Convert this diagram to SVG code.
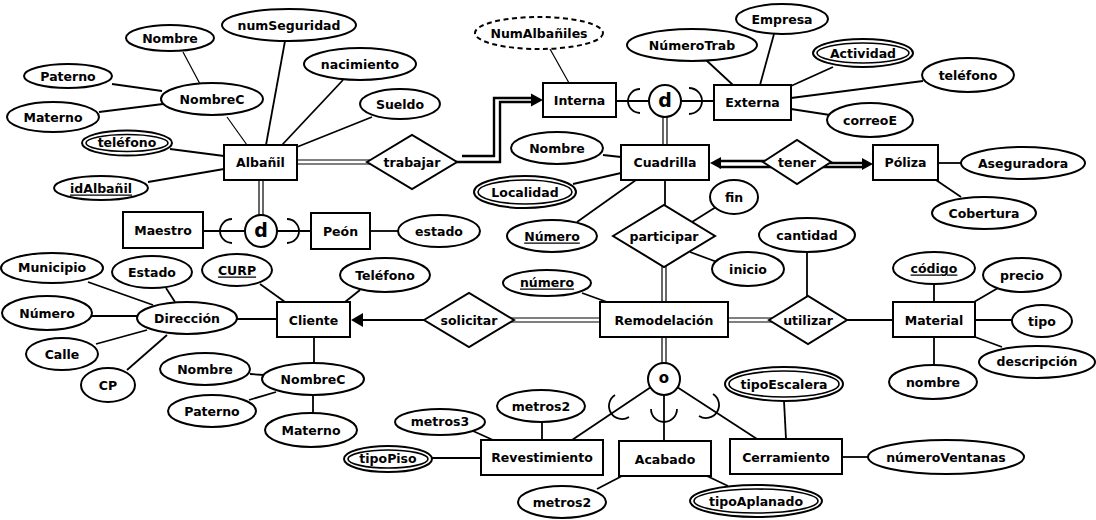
<svg xmlns="http://www.w3.org/2000/svg" width="1096" height="520" viewBox="0 0 1096 520">
<style>
.e{fill:#fff;stroke:#000;stroke-width:2}
.i{fill:none;stroke:#000;stroke-width:1.6}
.dash{stroke-dasharray:5 3.5}
.r{fill:#fff;stroke:#000;stroke-width:2}
.l{stroke:#000;stroke-width:1.8;fill:none}
.t{stroke:#000;stroke-width:1.2;fill:none}
.k{stroke:#000;stroke-width:2.4;fill:none}
.a{fill:#000;stroke:none}
text{font-family:"DejaVu Sans","Liberation Sans",sans-serif;font-weight:bold;font-size:12.5px;text-anchor:middle;dominant-baseline:central;fill:#000}
.u{text-decoration:underline}
.big{font-size:19px}
.o{font-size:15px}
</style>
<rect width="1096" height="520" fill="#fff"/>
<g id="connectors">
<line class="t" x1="227" y1="117" x2="247" y2="145"/>
<line class="t" x1="183" y1="52" x2="200" y2="84"/>
<line class="l" x1="112" y1="84" x2="162" y2="91"/>
<line class="l" x1="99" y1="112" x2="163" y2="104"/>
<line class="l" x1="285" y1="41" x2="266" y2="145"/>
<line class="l" x1="343" y1="80" x2="282" y2="145"/>
<line class="l" x1="372" y1="117" x2="297" y2="147"/>
<line class="l" x1="170" y1="149" x2="224" y2="156"/>
<line class="l" x1="148" y1="182" x2="224" y2="169"/>
<line class="t" x1="550" y1="49" x2="569" y2="83"/>
<line class="l" x1="706" y1="60" x2="733" y2="85"/>
<line class="l" x1="774" y1="34" x2="760" y2="85"/>
<line class="l" x1="833" y1="67" x2="791" y2="86"/>
<line class="l" x1="923" y1="81" x2="791" y2="98"/>
<line class="l" x1="830" y1="115" x2="791" y2="109"/>
<line class="l" x1="603" y1="155" x2="621" y2="157"/>
<line class="l" x1="573" y1="184" x2="621" y2="173"/>
<line class="l" x1="577" y1="222" x2="636" y2="180"/>
<line class="l" x1="665" y1="180" x2="665" y2="206"/>
<line class="l" x1="938" y1="163" x2="961" y2="163"/>
<line class="l" x1="936" y1="180" x2="961" y2="197"/>
<line class="l" x1="692" y1="222" x2="716" y2="207"/>
<line class="l" x1="690" y1="252" x2="717" y2="262"/>
<line class="l" x1="807" y1="252" x2="807" y2="297"/>
<line class="l" x1="847" y1="320" x2="893" y2="320"/>
<line class="l" x1="582" y1="293" x2="607" y2="302"/>
<line class="l" x1="425" y1="320" x2="361" y2="320"/>
<polygon class="a" points="351,320 363,313 363,327"/>
<line class="l" x1="260" y1="284" x2="285" y2="302"/>
<line class="l" x1="360" y1="290" x2="345" y2="302"/>
<line class="l" x1="237" y1="319" x2="277" y2="319"/>
<line class="l" x1="314" y1="337" x2="314" y2="363"/>
<line class="l" x1="88" y1="282" x2="153" y2="305"/>
<line class="l" x1="166" y1="288" x2="175" y2="302"/>
<line class="l" x1="92" y1="316" x2="137" y2="316"/>
<line class="l" x1="96" y1="344" x2="147" y2="330"/>
<line class="l" x1="127" y1="370" x2="167" y2="335"/>
<line class="l" x1="250" y1="374" x2="264" y2="375"/>
<line class="l" x1="249" y1="400" x2="276" y2="392"/>
<line class="l" x1="313" y1="395" x2="313" y2="413"/>
<line class="l" x1="934" y1="284" x2="934" y2="302"/>
<line class="l" x1="974" y1="302" x2="998" y2="288"/>
<line class="l" x1="975" y1="320" x2="1012" y2="320"/>
<line class="l" x1="975" y1="337" x2="1002" y2="347"/>
<line class="l" x1="934" y1="337" x2="934" y2="365"/>
<line class="l" x1="473" y1="431" x2="493" y2="440"/>
<line class="l" x1="542" y1="422" x2="542" y2="440"/>
<line class="l" x1="432" y1="458" x2="481" y2="458"/>
<line class="l" x1="597" y1="489" x2="622" y2="476"/>
<line class="l" x1="707" y1="476" x2="728" y2="486"/>
<line class="l" x1="784" y1="401" x2="786" y2="439"/>
<line class="l" x1="842" y1="457" x2="868" y2="457"/>
<line class="l" x1="651" y1="387" x2="572" y2="440"/>
<line class="l" x1="664" y1="395" x2="664" y2="441"/>
<line class="l" x1="677" y1="387" x2="757" y2="439"/>
<line class="l" x1="203" y1="231" x2="245" y2="231"/>
<line class="l" x1="277" y1="231" x2="311" y2="231"/>
<line class="l" x1="370" y1="231" x2="398" y2="231"/>
<line class="l" x1="616" y1="101" x2="649" y2="101"/>
<line class="l" x1="681" y1="101" x2="714" y2="101"/>
<!-- double lines -->
<line class="t" x1="297" y1="160" x2="372" y2="160"/>
<line class="t" x1="297" y1="164" x2="372" y2="164"/>
<line class="t" x1="259" y1="180" x2="259" y2="216"/>
<line class="t" x1="263" y1="180" x2="263" y2="216"/>
<line class="t" x1="663" y1="116" x2="663" y2="145"/>
<line class="t" x1="667" y1="116" x2="667" y2="145"/>
<line class="t" x1="662" y1="262" x2="662" y2="302"/>
<line class="t" x1="666" y1="262" x2="666" y2="302"/>
<line class="t" x1="510" y1="318" x2="600" y2="318"/>
<line class="t" x1="510" y1="322" x2="600" y2="322"/>
<line class="t" x1="728" y1="318" x2="775" y2="318"/>
<line class="t" x1="728" y1="322" x2="775" y2="322"/>
<line class="t" x1="662" y1="337" x2="662" y2="364"/>
<line class="t" x1="666" y1="337" x2="666" y2="364"/>
<!-- thick double arrows -->
<path class="k" d="M462,156 H494 V98 H533"/>
<path class="k" d="M455,162 H500 V102 H533"/>
<polygon class="a" points="543,100 531,93.5 531,106.5"/>
<line class="k" x1="719" y1="161" x2="768" y2="161"/>
<line class="k" x1="719" y1="167" x2="774" y2="167"/>
<polygon class="a" points="710,163 721,157 721,169"/>
<line class="k" x1="826" y1="163" x2="864" y2="163"/>
<line class="k" x1="820" y1="167" x2="864" y2="167"/>
<polygon class="a" points="873,164 862,158 862,170"/>
<!-- subset arcs -->
<path class="l" d="M232,219 A12,12 0 0 0 232,243"/>
<path class="l" d="M287,219 A12,12 0 0 1 287,243"/>
<path class="l" d="M640,89 A12,12 0 0 0 640,113"/>
<path class="l" d="M689,88 A13,13 0 0 1 689,114"/>
<path class="l" d="M651,409 A13,13 0 0 0 677,409"/>
<path class="l" d="M615,395 A13,13 0 0 0 629,417"/>
<path class="l" d="M713,394 A13,13 0 0 1 699,416"/>
</g>
<g id="albanil"><rect class="r" x="224" y="145" width="73" height="35"/><text x="260.5" y="162.5">Albañil</text></g>
<g id="maestro"><rect class="r" x="123" y="212" width="80" height="36"/><text x="163" y="230">Maestro</text></g>
<g id="peon"><rect class="r" x="311" y="213" width="59" height="36"/><text x="340.5" y="231">Peón</text></g>
<g id="interna"><rect class="r" x="543" y="83" width="73" height="34"/><text x="579.5" y="100">Interna</text></g>
<g id="externa"><rect class="r" x="714" y="85" width="77" height="35"/><text x="752.5" y="102.5">Externa</text></g>
<g id="cuadrilla"><rect class="r" x="621" y="145" width="88" height="35"/><text x="665" y="162.5">Cuadrilla</text></g>
<g id="poliza"><rect class="r" x="873" y="145" width="65" height="35"/><text x="905.5" y="162">Póliza</text></g>
<g id="cliente"><rect class="r" x="277" y="302" width="73" height="35"/><text x="313.5" y="320">Cliente</text></g>
<g id="remodelacion"><rect class="r" x="600" y="302" width="128" height="35"/><text x="664" y="320">Remodelación</text></g>
<g id="material"><rect class="r" x="893" y="302" width="82" height="35"/><text x="934" y="320">Material</text></g>
<g id="revestimiento"><rect class="r" x="481" y="440" width="122" height="35"/><text x="542" y="457.5">Revestimiento</text></g>
<g id="acabado"><rect class="r" x="619" y="441" width="92" height="35"/><text x="665" y="459">Acabado</text></g>
<g id="cerramiento"><rect class="r" x="730" y="439" width="112" height="35"/><text x="786" y="457">Cerramiento</text></g>
<g id="trabajar"><polygon class="r" points="367,162 412,135 457,162 412,189"/><text x="412" y="162">trabajar</text></g>
<g id="tener"><polygon class="r" points="763,162 797,140 831,162 797,184"/><text x="797" y="162">tener</text></g>
<g id="participar"><polygon class="r" points="613,236 664,205 715,236 664,267"/><text x="664" y="236">participar</text></g>
<g id="solicitar"><polygon class="r" points="424,320 469,293 514,320 469,347"/><text x="469" y="320">solicitar</text></g>
<g id="utilizar"><polygon class="r" points="769,320 808,296 847,320 808,344"/><text x="808" y="320">utilizar</text></g>
<g id="d-albanil"><circle class="e" cx="261" cy="231" r="16"/><text class="big" x="261" y="230">d</text></g>
<g id="d-cuadrilla"><circle class="e" cx="665" cy="101" r="16"/><text class="big" x="665" y="100">d</text></g>
<g id="o-remodelacion"><circle class="e" cx="664" cy="379" r="16"/><text class="o" x="664" y="378">o</text></g>
<g id="a-nombre1"><ellipse class="e" cx="170" cy="38" rx="44" ry="13"/><text x="170" y="38">Nombre</text></g>
<g id="a-numseguridad"><ellipse class="e" cx="289" cy="25" rx="67" ry="16"/><text x="289" y="25">numSeguridad</text></g>
<g id="a-nacimiento"><ellipse class="e" cx="360" cy="64" rx="56" ry="16"/><text x="360" y="64">nacimiento</text></g>
<g id="a-sueldo"><ellipse class="e" cx="400" cy="104" rx="40" ry="15"/><text x="400" y="104">Sueldo</text></g>
<g id="a-paterno1"><ellipse class="e" cx="68" cy="76" rx="44" ry="12"/><text x="68" y="76">Paterno</text></g>
<g id="a-nombrec1"><ellipse class="e" cx="212" cy="99" rx="51" ry="16"/><text x="212" y="99">NombreC</text></g>
<g id="a-materno1"><ellipse class="e" cx="53" cy="117" rx="46" ry="15"/><text x="53" y="117">Materno</text></g>
<g id="a-telefono1"><ellipse class="e" cx="127" cy="143" rx="45" ry="12.5"/><ellipse class="i" cx="127" cy="143" rx="41" ry="8.5"/><text x="127" y="142.5">teléfono</text></g>
<g id="a-idalbanil"><ellipse class="e" cx="101" cy="188" rx="47" ry="12"/><text class="u" x="101" y="188">idAlbañil</text></g>
<g id="a-numalbaniles"><ellipse class="e dash" cx="539" cy="33" rx="64" ry="16"/><text x="539" y="33">NumAlbañiles</text></g>
<g id="a-numerotrab"><ellipse class="e" cx="692" cy="45" rx="65" ry="16"/><text x="692" y="45">NúmeroTrab</text></g>
<g id="a-empresa"><ellipse class="e" cx="782" cy="19" rx="46" ry="15"/><text x="782" y="19">Empresa</text></g>
<g id="a-actividad"><ellipse class="e" cx="863" cy="53" rx="50" ry="14"/><ellipse class="i" cx="863" cy="53" rx="46" ry="10"/><text x="863" y="53">Actividad</text></g>
<g id="a-telefono2"><ellipse class="e" cx="968" cy="75" rx="46" ry="17"/><text x="968" y="75">teléfono</text></g>
<g id="a-correoe"><ellipse class="e" cx="870" cy="120" rx="43" ry="17"/><text x="870" y="120">correoE</text></g>
<g id="a-aseguradora"><ellipse class="e" cx="1023" cy="163" rx="62" ry="16"/><text x="1023" y="163">Aseguradora</text></g>
<g id="a-cobertura"><ellipse class="e" cx="984" cy="213" rx="52" ry="16"/><text x="984" y="213">Cobertura</text></g>
<g id="a-nombre2"><ellipse class="e" cx="557" cy="148" rx="46" ry="16"/><text x="557" y="148">Nombre</text></g>
<g id="a-localidad"><ellipse class="e" cx="525" cy="192" rx="51" ry="16"/><ellipse class="i" cx="525" cy="192" rx="47" ry="12"/><text x="525" y="192">Localidad</text></g>
<g id="a-numero1"><ellipse class="e" cx="552" cy="236" rx="45" ry="16"/><text class="u" x="552" y="236">Número</text></g>
<g id="a-fin"><ellipse class="e" cx="734" cy="197" rx="24" ry="17"/><text x="734" y="197">fin</text></g>
<g id="a-inicio"><ellipse class="e" cx="748" cy="269" rx="36" ry="17"/><text x="748" y="269">inicio</text></g>
<g id="a-cantidad"><ellipse class="e" cx="807" cy="235" rx="48" ry="17"/><text x="807" y="235">cantidad</text></g>
<g id="a-estado1"><ellipse class="e" cx="439" cy="231" rx="41" ry="16"/><text x="439" y="231">estado</text></g>
<g id="a-municipio"><ellipse class="e" cx="52" cy="268" rx="51" ry="15"/><text x="52" y="267">Municipio</text></g>
<g id="a-estado2"><ellipse class="e" cx="152" cy="272" rx="40" ry="16"/><text x="152" y="272">Estado</text></g>
<g id="a-curp"><ellipse class="e" cx="237" cy="270" rx="35" ry="16"/><text class="u" x="237" y="270">CURP</text></g>
<g id="a-telefono3"><ellipse class="e" cx="385" cy="275" rx="45" ry="17"/><text x="385" y="275">Teléfono</text></g>
<g id="a-numero2"><ellipse class="e" cx="47" cy="313" rx="45" ry="17"/><text x="47" y="313">Número</text></g>
<g id="a-direccion"><ellipse class="e" cx="187" cy="318" rx="50" ry="16"/><text x="187" y="318">Dirección</text></g>
<g id="a-calle"><ellipse class="e" cx="62" cy="354" rx="36" ry="16"/><text x="62" y="354">Calle</text></g>
<g id="a-cp"><ellipse class="e" cx="108" cy="385" rx="27" ry="17"/><text x="108" y="385">CP</text></g>
<g id="a-nombre3"><ellipse class="e" cx="205" cy="369" rx="45" ry="16"/><text x="205" y="369">Nombre</text></g>
<g id="a-nombrec2"><ellipse class="e" cx="313" cy="379" rx="51" ry="16"/><text x="313" y="379">NombreC</text></g>
<g id="a-paterno2"><ellipse class="e" cx="212" cy="411" rx="44" ry="16"/><text x="212" y="411">Paterno</text></g>
<g id="a-materno2"><ellipse class="e" cx="311" cy="430" rx="46" ry="17"/><text x="311" y="430">Materno</text></g>
<g id="a-numero3"><ellipse class="e" cx="547" cy="283" rx="44" ry="13"/><text class="u" x="547" y="282">número</text></g>
<g id="a-metros2a"><ellipse class="e" cx="541" cy="406" rx="44" ry="16"/><text x="541" y="406">metros2</text></g>
<g id="a-metros3"><ellipse class="e" cx="440" cy="422" rx="45" ry="13"/><text x="440" y="421">metros3</text></g>
<g id="a-tipopiso"><ellipse class="e" cx="388" cy="459" rx="44" ry="13"/><ellipse class="i" cx="388" cy="459" rx="40" ry="9"/><text x="388" y="458.5">tipoPiso</text></g>
<g id="a-metros2b"><ellipse class="e" cx="562" cy="502" rx="44" ry="16"/><text x="562" y="502">metros2</text></g>
<g id="a-tipoaplanado"><ellipse class="e" cx="756" cy="501" rx="66" ry="16"/><ellipse class="i" cx="756" cy="501" rx="62" ry="12"/><text x="756" y="501">tipoAplanado</text></g>
<g id="a-codigo"><ellipse class="e" cx="934" cy="268" rx="41" ry="16"/><text class="u" x="934" y="268">código</text></g>
<g id="a-precio"><ellipse class="e" cx="1022" cy="275" rx="39" ry="17"/><text x="1022" y="275">precio</text></g>
<g id="a-tipo"><ellipse class="e" cx="1042" cy="321" rx="30" ry="16"/><text x="1042" y="321">tipo</text></g>
<g id="a-descripcion"><ellipse class="e" cx="1037" cy="362" rx="58" ry="16"/><text x="1037" y="361">descripción</text></g>
<g id="a-nombre4"><ellipse class="e" cx="933" cy="382" rx="44" ry="17"/><text x="933" y="382">nombre</text></g>
<g id="a-tipoescalera"><ellipse class="e" cx="784" cy="384" rx="59" ry="17"/><ellipse class="i" cx="784" cy="384" rx="55" ry="13"/><text x="784" y="384">tipoEscalera</text></g>
<g id="a-numeroventanas"><ellipse class="e" cx="946" cy="457" rx="78" ry="17"/><text x="946" y="457">númeroVentanas</text></g>
</svg>
